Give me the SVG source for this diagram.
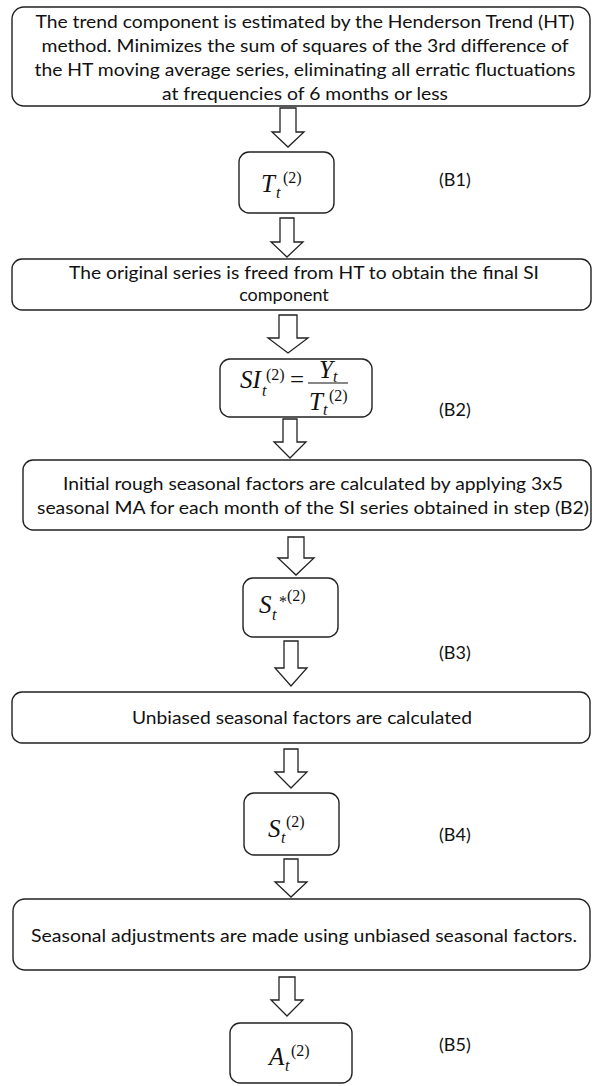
<svg xmlns="http://www.w3.org/2000/svg" width="592" height="1086" viewBox="0 0 592 1086">
<style>
.box{fill:#fff;stroke:#222;stroke-width:1.4}
.arr{fill:#fff;stroke:#222;stroke-width:1.3;stroke-linejoin:miter}
.t{font-family:Lato,"Liberation Sans",sans-serif;font-size:18px;fill:#111;text-anchor:middle}
.lbl{font-family:Lato,"Liberation Sans",sans-serif;font-size:18px;fill:#111}
.m{font-family:"Liberation Serif","DejaVu Serif",serif;font-style:italic;font-size:25px;fill:#111}
.s{font-family:"Liberation Serif","DejaVu Serif",serif;font-style:italic;font-size:16px;fill:#111}
.u{font-family:"Liberation Serif","DejaVu Serif",serif;font-style:normal;font-size:16px;fill:#111}
</style>
<rect width="592" height="1086" fill="#fff"/>
<g id="connectors">
<path class="arr" d="M280,108H296V132H304L288,147L272,132H280Z"/>
<path class="arr" d="M280,218H294V242H303L287,257L271,242H280Z"/>
<path class="arr" d="M279,315H297V338H308L288,353L268,338H279Z"/>
<path class="arr" d="M283,419H297V442H306L290,458L274,442H283Z"/>
<path class="arr" d="M288,537H304V558H314L296,575L278,558H288Z"/>
<path class="arr" d="M284,641H298V668H307L291,686L275,668H284Z"/>
<path class="arr" d="M284,749H298V772H307L291,788L275,772H284Z"/>
<path class="arr" d="M284,859H298V882H307L291,897L275,882H284Z"/>
<path class="arr" d="M279,977H295V1000H303L287,1016L271,1000H279Z"/>
</g>
<g id="step-trend">
<rect class="box" x="12" y="7" width="578" height="99" rx="12"/>
<text class="t" x="305" y="28" textLength="539" lengthAdjust="spacingAndGlyphs">The trend component is estimated by the Henderson Trend (HT)</text>
<text class="t" x="305" y="52" textLength="527" lengthAdjust="spacingAndGlyphs">method. Minimizes the sum of squares of the 3rd difference of</text>
<text class="t" x="305" y="76" textLength="541" lengthAdjust="spacingAndGlyphs">the HT moving average series, eliminating all erratic fluctuations</text>
<text class="t" x="305" y="100" textLength="286" lengthAdjust="spacingAndGlyphs">at frequencies of 6 months or less</text>
</g>
<g id="B1">
<rect class="box" x="239" y="152" width="95" height="61" rx="10"/>
<text class="m" x="261" y="192">T</text>
<text class="s" x="276" y="198">t</text>
<text class="u" x="283" y="183">(2)</text>
<text class="lbl" x="439" y="186">(B1)</text>
</g>
<g id="step-si">
<rect class="box" x="12" y="259" width="579" height="51" rx="10"/>
<text class="t" x="304" y="279" textLength="470" lengthAdjust="spacingAndGlyphs">The original series is freed from HT to obtain the final SI</text>
<text class="t" x="284" y="301">component</text>
</g>
<g id="B2">
<rect class="box" x="220" y="359" width="152" height="58" rx="10"/>
<text class="m" x="240" y="388">SI</text>
<text class="s" x="262" y="396">t</text>
<text class="u" x="266" y="380">(2)</text>
<text class="u" x="290" y="388" style="font-size:25px">=</text>
<line x1="308" y1="383" x2="348" y2="383" stroke="#111" stroke-width="1.2"/>
<text class="m" x="319" y="378">Y</text>
<text class="s" x="333" y="382">t</text>
<text class="m" x="309" y="410">T</text>
<text class="s" x="323" y="415">t</text>
<text class="u" x="329" y="401">(2)</text>
<text class="lbl" x="439" y="416">(B2)</text>
</g>
<g id="step-rough">
<rect class="box" x="23" y="460" width="568" height="70" rx="10"/>
<text class="t" x="313" y="490" textLength="500" lengthAdjust="spacingAndGlyphs">Initial rough seasonal factors are calculated by applying 3x5</text>
<text class="t" x="313" y="514" textLength="552" lengthAdjust="spacingAndGlyphs">seasonal MA for each month of the SI series obtained in step (B2)</text>
</g>
<g id="B3">
<rect class="box" x="243" y="578" width="95" height="59" rx="10"/>
<text class="m" x="259" y="613">S</text>
<text class="s" x="272" y="620">t</text>
<text class="u" x="279" y="607">*</text>
<text class="u" x="287" y="601">(2)</text>
<text class="lbl" x="439" y="659">(B3)</text>
</g>
<g id="step-unbiased">
<rect class="box" x="12" y="692" width="578" height="51" rx="10"/>
<text class="t" x="302" y="724" textLength="340" lengthAdjust="spacingAndGlyphs">Unbiased seasonal factors are calculated</text>
</g>
<g id="B4">
<rect class="box" x="244" y="793" width="95" height="62" rx="10"/>
<text class="m" x="268" y="837">S</text>
<text class="s" x="281" y="843">t</text>
<text class="u" x="286" y="827">(2)</text>
<text class="lbl" x="439" y="841">(B4)</text>
</g>
<g id="step-adjust">
<rect class="box" x="13" y="899" width="577" height="71" rx="12"/>
<text class="t" x="304" y="942" textLength="546" lengthAdjust="spacingAndGlyphs">Seasonal adjustments are made using unbiased seasonal factors.</text>
</g>
<g id="B5">
<rect class="box" x="230" y="1023" width="122" height="60" rx="10"/>
<text class="m" x="269" y="1065">A</text>
<text class="s" x="285" y="1071">t</text>
<text class="u" x="291" y="1056">(2)</text>
<text class="lbl" x="439" y="1051">(B5)</text>
</g>
</svg>
